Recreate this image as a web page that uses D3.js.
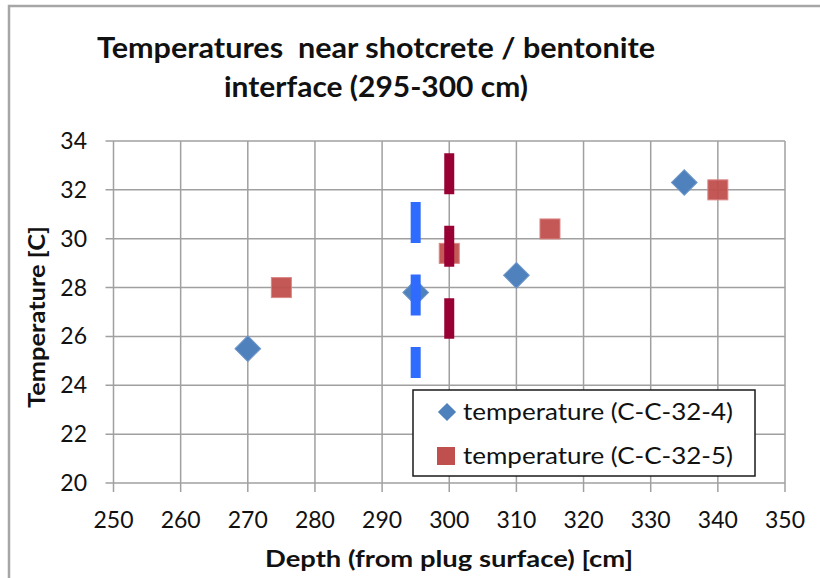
<!DOCTYPE html>
<html>
<head>
<meta charset="utf-8">
<script src="https://cdn.jsdelivr.net/npm/d3@7"></script>
<style>
  body { margin: 0; background: #fff; }
  svg { display: block; font-family: Lato, "Open Sans", sans-serif; }
</style>
</head>
<body>
<div id="chart"></div>
<script>
// data
const depth4 = [270, 295, 310, 335];
const temp4 = [25.5, 27.8, 28.5, 32.3];
const depth5 = [275, 300, 315, 340];
const temp5 = [28.0, 29.4, 30.4, 32.0];
// marker lines for the interface (295-300 cm)
const interfaceLines = [
  { x: 295, from: 31.5, to: 24.3, color: '#2f6bff' },
  { x: 300, from: 33.5, to: 25.9, color: '#990033' }
];
const xTicks = d3.range(250, 351, 10);
const yTicks = d3.range(20, 35, 2);
const seriesNames = ['temperature (C-C-32-4)', 'temperature (C-C-32-5)'];

const width = 820, height = 578;
const svg = d3.select('#chart').append('svg')
  .attr('width', width).attr('height', height);

// chart frame
svg.append('path')
  .attr('d', 'M9,' + height + ' V6 H' + width)
  .attr('fill', 'none').attr('stroke', '#a6a6a6').attr('stroke-width', 2.5);

const x = d3.scaleLinear().domain([250, 350]).range([113.5, 785]);
const y = d3.scaleLinear().domain([20, 34]).range([483, 141]);

// grid
const grid = svg.append('g').attr('stroke', '#a0a0a0').attr('stroke-width', 1.5);
grid.selectAll('.gx').data(xTicks).enter().append('line')
  .attr('x1', d => x(d)).attr('x2', d => x(d))
  .attr('y1', y(34)).attr('y2', y(20) + 9);
grid.selectAll('.gy').data(yTicks).enter().append('line')
  .attr('x1', x(250) - 8).attr('x2', x(350))
  .attr('y1', d => y(d)).attr('y2', d => y(d));

// tick labels
svg.append('g').selectAll('text').data(xTicks).enter().append('text')
  .attr('x', d => x(d)).attr('y', 528)
  .attr('text-anchor', 'middle').attr('font-size', 23).attr('fill', '#111')
  .text(d => d);
svg.append('g').selectAll('text').data(yTicks).enter().append('text')
  .attr('x', 87).attr('y', d => y(d) + 8)
  .attr('text-anchor', 'end').attr('font-size', 23).attr('fill', '#111')
  .text(d => d);

// series 2: squares
svg.append('g').selectAll('rect').data(depth5).enter().append('rect')
  .attr('x', d => x(d) - 10).attr('y', (d, i) => y(temp5[i]) - 10)
  .attr('width', 20).attr('height', 20)
  .attr('fill', '#c0504d').attr('stroke', '#d9817e').attr('stroke-width', 1)
  .attr('opacity', 0.95);

// series 1: diamonds
const diamond = d3.symbol().type(d3.symbolSquare).size(330);
svg.append('g').selectAll('path').data(depth4).enter().append('path')
  .attr('d', diamond)
  .attr('transform', (d, i) => 'translate(' + x(d) + ',' + y(temp4[i]) + ') rotate(45)')
  .attr('fill', '#4f81bd').attr('stroke', '#6f97c9').attr('stroke-width', 1);

// dashed interface lines, on top of the markers
svg.append('g').selectAll('line').data(interfaceLines).enter().append('line')
  .attr('x1', d => x(d.x)).attr('x2', d => x(d.x))
  .attr('y1', d => y(d.from)).attr('y2', d => y(d.to))
  .attr('stroke', d => d.color).attr('stroke-width', 10)
  .attr('stroke-dasharray', '41,31.5');

// legend
const lg = svg.append('g');
lg.append('rect').attr('x', 413).attr('y', 390).attr('width', 342).attr('height', 86)
  .attr('fill', '#fff').attr('stroke', '#1a1a1a').attr('stroke-width', 1.5);
lg.append('path').attr('d', d3.symbol().type(d3.symbolSquare).size(165))
  .attr('transform', 'translate(447,412) rotate(45)').attr('fill', '#4f81bd');
lg.append('rect').attr('x', 437).attr('y', 447).attr('width', 18).attr('height', 18)
  .attr('fill', '#c0504d');
lg.selectAll('text').data(seriesNames).enter().append('text')
  .attr('x', 463).attr('y', (d, i) => 420 + i * 44)
  .attr('font-size', 23).attr('fill', '#111')
  .attr('textLength', 270).attr('lengthAdjust', 'spacingAndGlyphs')
  .text(d => d);

// titles
const title = svg.append('g').attr('font-weight', 'bold').attr('fill', '#111').attr('font-size', 28);
title.append('text').attr('x', 97).attr('y', 58)
  .attr('textLength', 558).attr('lengthAdjust', 'spacingAndGlyphs')
  .text('Temperatures\u00a0 near shotcrete / bentonite');
title.append('text').attr('x', 224).attr('y', 97)
  .attr('textLength', 304).attr('lengthAdjust', 'spacingAndGlyphs')
  .text('interface (295-300 cm)');

svg.append('text').attr('x', 265).attr('y', 567)
  .attr('font-weight', 'bold').attr('font-size', 22).attr('fill', '#111')
  .attr('textLength', 368).attr('lengthAdjust', 'spacingAndGlyphs')
  .text('Depth (from plug surface) [cm]');
svg.append('text')
  .attr('transform', 'translate(45,408) rotate(-90)')
  .attr('font-weight', 'bold').attr('font-size', 22).attr('fill', '#111')
  .attr('textLength', 182).attr('lengthAdjust', 'spacingAndGlyphs')
  .text('Temperature [C]');
</script>
</body>
</html>
